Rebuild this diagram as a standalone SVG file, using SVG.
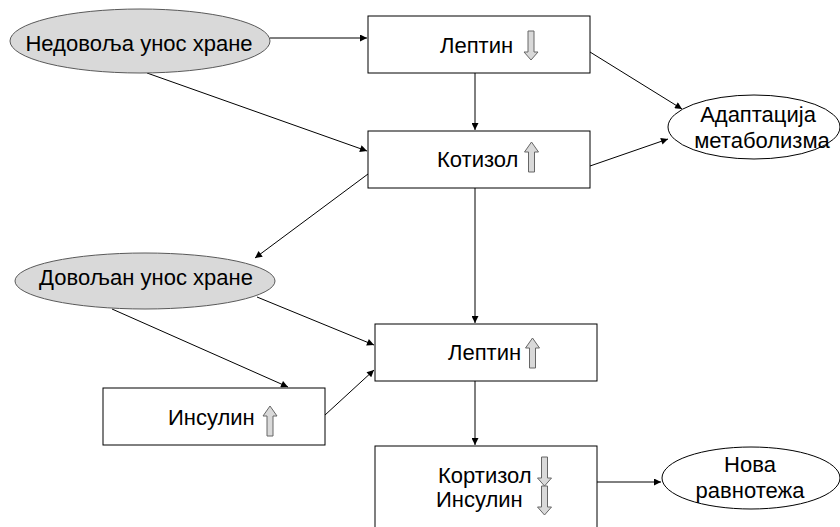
<svg xmlns="http://www.w3.org/2000/svg" width="840" height="527" viewBox="0 0 840 527">
<style>
text{font-family:"Liberation Sans",Arial,sans-serif;font-size:22px;fill:#000}
.box{fill:#fff;stroke:#000;stroke-width:1}
.oval{fill:#d9d9d9;stroke:#595959;stroke-width:1}
.ovalw{fill:#fff;stroke:#000;stroke-width:1}
.con{stroke:#000;stroke-width:1;fill:none;marker-end:url(#ah)}
.ico{fill:#d9d9d9;stroke:#666;stroke-width:1}
</style>
<defs>
<marker id="ah" viewBox="0 0 10 10" refX="10" refY="5" markerWidth="9" markerHeight="7" markerUnits="userSpaceOnUse" orient="auto">
<path d="M0,0 L10,5 L0,10 z" fill="#000"/>
</marker>
<path id="down" d="M-3,0 H3 V21 H7 L0,29 L-7,21 H-3 Z"/>
<path id="up" d="M0,0 L7,10 H3 V30 H-3 V10 H-7 Z"/>
</defs>
<rect width="840" height="527" fill="#fff"/>
<g id="connectors">
<line class="con" x1="270" y1="38" x2="367" y2="38"/>
<line class="con" x1="147" y1="73" x2="367" y2="151"/>
<line class="con" x1="475" y1="73" x2="475" y2="130"/>
<line class="con" x1="590" y1="52" x2="682" y2="109"/>
<line class="con" x1="590" y1="166" x2="668" y2="139"/>
<line class="con" x1="368" y1="174" x2="255" y2="258"/>
<line class="con" x1="475" y1="188" x2="475" y2="323"/>
<line class="con" x1="257" y1="297" x2="374" y2="345"/>
<line class="con" x1="112" y1="309" x2="288" y2="387"/>
<line class="con" x1="325" y1="415" x2="374" y2="370"/>
<line class="con" x1="475" y1="381" x2="475" y2="445"/>
<line class="con" x1="597" y1="482" x2="661" y2="482"/>
</g>
<g id="nedovolja">
<ellipse class="oval" cx="140" cy="41" rx="130" ry="32"/>
<text x="139" y="51" text-anchor="middle">Недовоља унос хране</text>
</g>
<g id="leptin1">
<rect class="box" x="368" y="16" width="222" height="57"/>
<text x="440" y="53">Лептин</text>
<use href="#down" x="531" y="31" class="ico"/>
</g>
<g id="kotizol">
<rect class="box" x="368" y="131" width="222" height="57"/>
<text x="437" y="167">Котизол</text>
<use href="#up" x="531.5" y="142" class="ico"/>
</g>
<g id="adaptacija">
<ellipse class="ovalw" cx="754" cy="127" rx="86" ry="32"/>
<text x="758" y="122" text-anchor="middle">Адаптација</text>
<text x="762" y="148" text-anchor="middle">метаболизма</text>
</g>
<g id="dovoljan">
<ellipse class="oval" cx="145" cy="281" rx="130" ry="28"/>
<text x="146" y="285" text-anchor="middle">Довољан унос хране</text>
</g>
<g id="leptin2">
<rect class="box" x="375" y="324" width="222" height="57"/>
<text x="448" y="360">Лептин</text>
<use href="#up" x="532.5" y="338" class="ico"/>
</g>
<g id="insulin">
<rect class="box" x="103" y="388" width="222" height="57"/>
<text x="168" y="425">Инсулин</text>
<use href="#up" x="270" y="406" class="ico"/>
</g>
<g id="kortizol-insulin">
<rect class="box" x="375" y="446" width="222" height="90"/>
<text x="438" y="483">Кортизол</text>
<text x="436" y="507">Инсулин</text>
<use href="#down" x="544.5" y="457" class="ico"/>
<use href="#down" x="544.5" y="486" class="ico"/>
</g>
<g id="nova">
<ellipse class="ovalw" cx="751" cy="478" rx="89" ry="31"/>
<text x="750" y="472" text-anchor="middle">Нова</text>
<text x="750" y="498" text-anchor="middle">равнотежа</text>
</g>
</svg>
